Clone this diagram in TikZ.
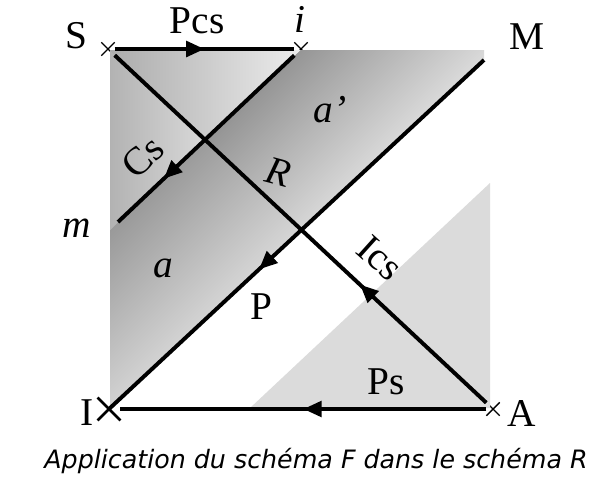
\documentclass[tikz,border=0pt]{standalone}
\usepackage{fontspec}
\setmainfont{Liberation Serif}
\newfontfamily\capfont{DejaVu Sans}
\usepackage{tikz}
\usetikzlibrary{arrows.meta,decorations.markings,shapes.misc}
\definecolor{lightdot}{gray}{0.86}

\begin{document}
\begin{tikzpicture}[x=0.025cm,y=-0.025cm,
  thickline/.style={line width=2.8pt},
  midarrow/.style={postaction={decorate},decoration={markings,
    mark=at position #1 with {\arrow{Triangle[length=13pt,width=11pt]}}}},
  crossmark/.style={cross out,draw,line width=1pt,minimum size=0.3cm,inner sep=0pt},
  lbl/.style={inner sep=0pt,font=\fontsize{28}{30}\selectfont},
  caption/.style={inner sep=0pt,font=\capfont\itshape\fontsize{18}{20}\selectfont}]
  \useasboundingbox (0,0) rectangle (601,488);
  % end points
  \node[crossmark] (S) at (108,49) {};
  \node[crossmark] (i) at (301,49) {};
  \node[crossmark] (A) at (493,409) {};
  \node[crossmark,line width=2pt,minimum size=0.5cm] (I) at (109,409) {};
  \coordinate (M) at (484,60);
  \coordinate (m) at (118,222);
  \coordinate (X1) at (intersection of S--A and i--m);
  \coordinate (X2) at (intersection of S--A and M--I);
  % shaded zones
  \shade[left color=gray!65,right color=gray!15] (110,50) -- (301,50) -- (X1) -- cycle;
  \shade[left color=gray!60,right color=gray!30] (110,50) -- (X1) -- (m) -- (110,230) -- cycle;
  \shade[top color=gray!90,bottom color=white,shading angle=45] (301,50) -- (484,50) -- (M) -- (X2) -- (X1) -- cycle;
  \shade[top color=gray!85,bottom color=gray!5,shading angle=45] (m) -- (110,230) -- (110,408) -- (112,408) -- (X2) -- (X1) -- cycle;
  \fill[lightdot] (250,408) -- (490,408) -- (490,183) -- cycle;
  % connectors
  \draw[thickline,midarrow=0.5] (S) -- (i);
  \draw[thickline,midarrow=0.74] (i) -- (m);
  \draw[thickline,midarrow=0.6] (M) -- (I.center);
  \draw[thickline,midarrow=0.34] (A) -- (S);
  \draw[thickline,midarrow=0.5] (A) -- (I);
  % labels
  \node[lbl] (lS) at (76,36) {S};
  \node[lbl] (lPcs) at (197,21) {Pcs};
  \node[lbl] (li) at (300,19) {\textit{i}};
  \node[lbl] (lM) at (527,37) {M};
  \node[lbl] (lm) at (77,228) {\textit{m}};
  \node[lbl,rotate=43] (lCs) at (143,157) {Cs};
  \node[lbl,rotate=-15] (lR) at (278,172) {\textit{R}};
  \node[lbl] (la2) at (330,110) {\textit{a'}};
  \node[lbl] (la) at (163,268) {\textit{a}};
  \node[lbl] (lP) at (261,307) {P};
  \node[lbl,rotate=-42] (lIcs) at (380,258) {Ics};
  \node[lbl] (lPs) at (386,382) {Ps};
  \node[lbl] (lI) at (87,413) {I};
  \node[lbl] (lA) at (522,413) {A};
  \node[caption] (cap) at (316,461) {Application du schéma F dans le schéma R};
\end{tikzpicture}
\end{document}
